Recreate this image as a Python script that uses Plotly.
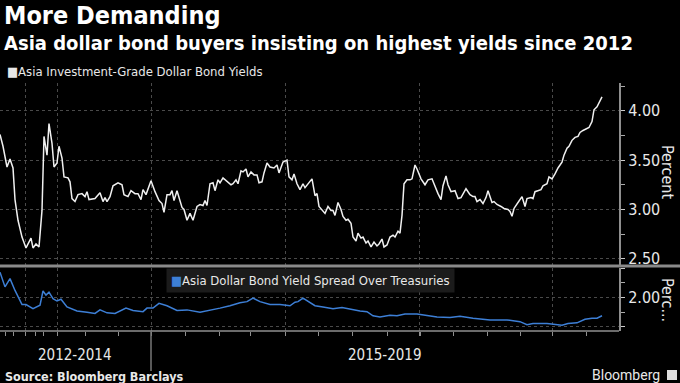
import plotly.graph_objects as go

# ---- data (x = observation index along the time axis) ----
yield_t = [0, 3, 7, 10, 13, 15, 18, 22, 26, 31, 33, 36, 39, 42, 44, 47, 49, 52, 54, 57,
           59, 62, 64, 68, 70, 72, 75, 78, 82, 85, 87, 89, 95, 100, 103, 105, 107, 110, 113, 118,
           122, 124, 128, 131, 135, 138, 141, 143, 146, 151, 155, 159, 162, 164, 167, 170, 172, 174, 177, 182,
           184, 187, 190, 193, 197, 200, 203, 205, 207, 210, 213, 215, 218, 220, 223, 227, 231, 233, 236, 238,
           241, 243, 246, 248, 251, 254, 257, 259, 262, 264, 267, 270, 274, 277, 279, 283, 287, 289, 292, 294,
           297, 300, 303, 305, 308, 312, 315, 317, 319, 323, 325, 328, 331, 333, 335, 338, 341, 343, 346, 348,
           351, 353, 356, 358, 361, 363, 366, 368, 371, 374, 377, 379, 382, 384, 387, 390, 393, 395, 398, 400,
           402, 404, 407, 410, 412, 415, 417, 421, 425, 428, 432, 434, 436, 438, 441, 443, 446, 448, 451, 455,
           458, 461, 466, 470, 473, 475, 477, 480, 483, 486, 488, 492, 494, 497, 501, 504, 508, 510, 512, 514,
           518, 522, 525, 527, 531, 533, 535, 538, 541, 543, 547, 549, 552, 555, 558, 562, 564, 567, 569, 572,
           575, 578, 580, 583, 587, 589, 592, 594, 597, 599, 602]
yield_v = [3.76, 3.64, 3.43, 3.51, 3.42, 3.10, 2.89, 2.72, 2.61, 2.71, 2.61, 2.65, 2.62, 2.99, 3.74, 3.55, 3.87, 3.67, 3.43, 3.47,
           3.64, 3.52, 3.33, 3.32, 3.28, 3.11, 3.08, 3.15, 3.16, 3.13, 3.18, 3.10, 3.11, 3.17, 3.08, 3.12, 3.08, 3.13, 3.24, 3.27,
           3.25, 3.15, 3.13, 3.19, 3.16, 3.16, 3.10, 3.20, 3.15, 3.29, 3.18, 3.09, 3.06, 2.97, 3.15, 3.15, 3.19, 3.09, 3.19, 3.02,
           3.00, 2.89, 2.96, 2.89, 3.03, 3.05, 3.04, 3.09, 3.04, 3.26, 3.27, 3.19, 3.30, 3.27, 3.32, 3.28, 3.25, 3.26, 3.30, 3.26,
           3.39, 3.38, 3.41, 3.33, 3.38, 3.35, 3.35, 3.27, 3.28, 3.37, 3.47, 3.43, 3.42, 3.45, 3.37, 3.48, 3.50, 3.33, 3.30, 3.36,
           3.26, 3.20, 3.26, 3.22, 3.26, 3.31, 3.14, 3.16, 3.03, 2.98, 2.96, 3.03, 2.99, 2.99, 2.94, 3.07, 3.00, 2.93, 2.89, 2.90,
           2.86, 2.72, 2.68, 2.76, 2.71, 2.72, 2.66, 2.68, 2.62, 2.67, 2.63, 2.65, 2.70, 2.62, 2.64, 2.72, 2.74, 2.72, 2.78, 2.76,
           2.94, 3.26, 3.30, 3.30, 3.31, 3.45, 3.41, 3.31, 3.25, 3.30, 3.31, 3.26, 3.20, 3.16, 3.10, 3.24, 3.34, 3.25, 3.18, 3.19,
           3.11, 3.12, 3.21, 3.15, 3.13, 3.13, 3.08, 3.10, 3.06, 3.12, 3.19, 3.07, 3.08, 3.05, 3.03, 3.01, 3.00, 2.98, 2.93, 3.01,
           3.07, 3.13, 3.03, 3.11, 3.12, 3.11, 3.18, 3.19, 3.20, 3.24, 3.26, 3.33, 3.31, 3.36, 3.42, 3.48, 3.55, 3.62, 3.64, 3.70,
           3.73, 3.74, 3.78, 3.80, 3.82, 3.83, 3.89, 4.01, 4.04, 4.08, 4.14]

spread_t = [0, 5, 10, 15, 22, 26, 33, 40, 43, 46, 49, 53, 57, 61, 67, 77, 87, 95, 100, 107,
            115, 126, 133, 143, 147, 153, 159, 167, 177, 187, 200, 213, 220, 230, 240, 247, 253, 260, 270, 280,
            290, 295, 298, 303, 308, 315, 323, 333, 342, 350, 360, 367, 373, 380, 390, 397, 405, 417, 427, 437,
            450, 460, 473, 490, 507, 520, 527, 533, 547, 555, 562, 568, 577, 585, 592, 597, 602]
spread_v = [2.43, 2.18, 2.32, 2.12, 1.88, 1.88, 1.81, 1.87, 2.11, 2.04, 2.09, 1.98, 1.94, 1.97, 1.84, 1.77, 1.75, 1.73, 1.79, 1.74,
            1.73, 1.82, 1.78, 1.76, 1.82, 1.82, 1.90, 1.86, 1.78, 1.79, 1.75, 1.79, 1.82, 1.86, 1.91, 1.93, 1.99, 1.93, 1.88, 1.88,
            1.86, 1.92, 1.93, 1.99, 1.94, 1.86, 1.84, 1.81, 1.83, 1.80, 1.77, 1.76, 1.69, 1.67, 1.70, 1.69, 1.72, 1.72, 1.70, 1.67,
            1.66, 1.68, 1.65, 1.62, 1.62, 1.59, 1.54, 1.56, 1.56, 1.55, 1.53, 1.56, 1.57, 1.63, 1.65, 1.65, 1.69]

grid_t = [25, 57, 151, 285, 419, 552]
tick_t = [5, 13, 25, 35, 43, 57, 85, 118, 151, 185, 219, 250, 285, 318, 352, 387, 420, 453, 487, 520, 552, 586]
period_labels = ["2012-2014", "2015-2019"]
period_centers = [75, 385]
period_split = 151

top_ticks = [2.5, 3.0, 3.5, 4.0]
top_ticktext = ["2.50", "3.00", "3.50", "4.00"]
low_ticks = [1.5, 2.0, 2.5]
low_ticktext = ["", "2.00", ""]

# ---- style ----
W, H = 680, 383
FONT = "DejaVu Sans Condensed, DejaVu Sans, sans-serif"
BG = "#000000"
GRID = "#4a4a4a"
AXIS = "#8f8f8f"
TXT = "#e8e8e8"
BLUE = "#3d7fd6"

def py(p):  # pixel row -> paper fraction
    return 1 - p / H

fig = go.Figure()
fig.add_trace(go.Scatter(x=yield_t, y=yield_v, mode="lines",
                         line=dict(color="#f0f0f0", width=1.5),
                         xaxis="x", yaxis="y", showlegend=False,
                         name="Asia Investment-Grade Dollar Bond Yields"))
fig.add_trace(go.Scatter(x=spread_t, y=spread_v, mode="lines",
                         line=dict(color=BLUE, width=1.5),
                         xaxis="x2", yaxis="y2", showlegend=False,
                         name="Asia Dollar Bond Yield Spread Over Treasuries"))

xdom = [0, 619 / W]
common_x = dict(range=[0, 619], domain=xdom, showline=False, zeroline=False,
                tickmode="array", tickvals=grid_t, showticklabels=False,
                showgrid=True, gridcolor=GRID, griddash="dot", gridwidth=1)

fig.update_layout(
    width=W, height=H,
    paper_bgcolor=BG, plot_bgcolor=BG,
    margin=dict(l=0, r=0, t=0, b=0, autoexpand=False),
    font=dict(family=FONT, color=TXT),
    xaxis=dict(**common_x, anchor="y", ticks=""),
    xaxis2=dict(**common_x, anchor="y2", matches="x", ticks="outside", ticklen=4,
                tickcolor=AXIS,
                minor=dict(tickmode="array", tickvals=tick_t, ticks="outside",
                           ticklen=4, tickcolor=AXIS, showgrid=False)),
    yaxis=dict(domain=[py(265), py(83)], range=[2.437, 4.281], side="right",
               anchor="x", showline=True, linecolor=AXIS, linewidth=2,
               tickmode="array", tickvals=top_ticks, ticktext=top_ticktext,
               ticks="outside", ticklen=4, tickcolor="#cccccc",
               tickfont=dict(size=16, color=TXT, family=FONT),
               showgrid=True, gridcolor=GRID, griddash="dot", zeroline=False,
               minor=dict(tickmode="array", tickvals=[2.75, 3.25, 3.75, 4.25],
                          ticks="outside", ticklen=4, tickcolor="#aaaaaa", showgrid=False)),
    yaxis2=dict(domain=[py(331), py(268)], range=[1.432, 2.5], side="right",
                anchor="x2", showline=True, linecolor=AXIS, linewidth=2,
                tickmode="array", tickvals=low_ticks, ticktext=low_ticktext,
                ticks="outside", ticklen=4, tickcolor="#cccccc",
                tickfont=dict(size=16, color=TXT, family=FONT),
                showgrid=True, gridcolor=GRID, griddash="dot", zeroline=False,
                minor=dict(tickmode="array", tickvals=[1.75, 2.25],
                           ticks="outside", ticklen=4, tickcolor="#aaaaaa", showgrid=False)),
)

# bottom axis line and panel separator
fig.add_shape(type="line", xref="x2", yref="paper", x0=0, x1=619,
              y0=py(331), y1=py(331), line=dict(color=AXIS, width=1.5))
fig.add_shape(type="rect", xref="paper", yref="paper", x0=0, x1=1,
              y0=py(267.5), y1=py(264.5), line=dict(width=0), fillcolor="#8a8a8a")
fig.add_shape(type="line", xref="x2", yref="paper", x0=period_split, x1=period_split,
              y0=py(331), y1=py(371), line=dict(color="#777777", width=1.5))

ann = []
ann.append(dict(text="<b>More Demanding</b>", x=0.003, y=py(16), font=dict(size=25, color="#ffffff")))
ann.append(dict(text="<b>Asia dollar bond buyers insisting on highest yields since 2012</b>",
                x=0.003, y=py(43), font=dict(size=20, color="#ffffff")))
ann.append(dict(text="■Asia Investment-Grade Dollar Bond Yields", x=0.008, y=py(71),
                font=dict(size=13, color=TXT)))
ann.append(dict(text="<span style='color:%s'>■</span>Asia Dollar Bond Yield Spread Over Treasuries" % BLUE,
                x=166 / W, y=py(280), font=dict(size=13, color=TXT),
                bgcolor="#1b1b1b", borderpad=4))
ann.append(dict(text="<b>Source: Bloomberg Barclays</b>", x=0.004, y=py(376),
                font=dict(size=12.5, color=TXT)))
for a in ann:
    fig.add_annotation(xref="paper", yref="paper", xanchor="left", yanchor="middle",
                       showarrow=False, **a)

fig.add_annotation(text="Percent", xref="paper", yref="paper", x=668 / W, y=py(172),
                   xanchor="center", yanchor="middle",
                   textangle=90, showarrow=False, font=dict(size=16, color=TXT))
fig.add_annotation(text="Perc...", xref="paper", yref="paper", x=668 / W, y=py(300),
                   xanchor="center", yanchor="middle",
                   textangle=90, showarrow=False, font=dict(size=16, color=TXT))
for lab, c in zip(period_labels, period_centers):
    fig.add_annotation(text=lab, xref="x2", yref="paper", x=c, y=py(355),
                       xanchor="center", yanchor="middle",
                       showarrow=False, font=dict(size=15, color=TXT))
fig.add_annotation(text="Bloomberg", xref="paper", yref="paper", x=662 / W, y=py(375),
                   xanchor="right", yanchor="middle", showarrow=False,
                   font=dict(size=14, color=TXT, family="Roboto, Liberation Sans, sans-serif"))
fig.add_shape(type="rect", xref="paper", yref="paper", x0=667 / W, x1=677 / W,
              y0=py(380), y1=py(370), line=dict(width=0), fillcolor="#dddddd")

fig.write_html("out.html", config={"displayModeBar": False},
               post_script="document.body.style.margin='0';document.body.style.background='#000';")
